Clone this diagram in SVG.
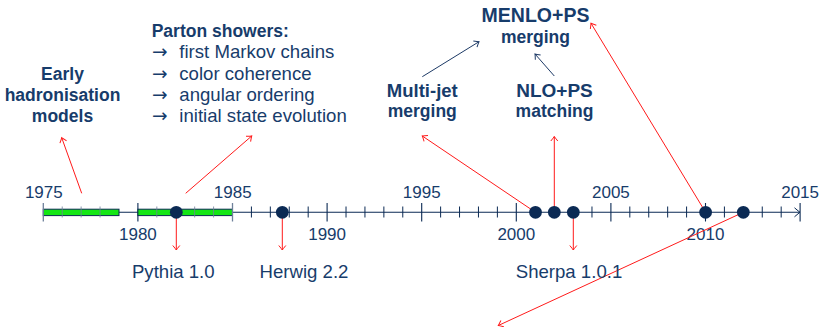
<svg xmlns="http://www.w3.org/2000/svg" width="821" height="327" viewBox="0 0 821 327">
<style>
text{font-family:"Liberation Sans",Arial,sans-serif;fill:#173c6b}
.b{font-weight:bold;font-size:17.5px;text-anchor:middle}
.r{font-size:18.6px}
.ar{font-family:"DejaVu Sans",sans-serif;font-size:18.6px}
.yr{font-size:17px;text-anchor:middle}
.lab{font-size:18.6px;text-anchor:middle}
.red{stroke:#ff1a1a;stroke-width:1;fill:none;marker-end:url(#ra)}
.nav{stroke:#1d3a66;stroke-width:1;fill:none;marker-end:url(#na)}
.dot{fill:#0b2a54}
</style>
<defs>
<marker id="ra" markerUnits="userSpaceOnUse" viewBox="-6 -5 8 10" markerWidth="8" markerHeight="10" refX="0" refY="0" orient="auto">
<path d="M-4.5,-3.5 Q-1,-0.6 0,0 Q-1,0.6 -4.5,3.5" fill="none" stroke="#ff1a1a" stroke-width="1"/>
</marker>
<marker id="na" markerUnits="userSpaceOnUse" viewBox="-6 -5 8 10" markerWidth="8" markerHeight="10" refX="0" refY="0" orient="auto">
<path d="M-4.5,-3.5 Q-1,-0.6 0,0 Q-1,0.6 -4.5,3.5" fill="none" stroke="#1d3a66" stroke-width="1"/>
</marker>
<marker id="axa" markerUnits="userSpaceOnUse" viewBox="-7 -6 9 12" markerWidth="9" markerHeight="12" refX="0" refY="0" orient="auto">
<path d="M-5.5,-4.5 Q-1.2,-0.8 0,0 Q-1.2,0.8 -5.5,4.5" fill="none" stroke="#0b2a54" stroke-width="1"/>
</marker>
</defs>

<g id="axis">
<line x1="43.3" y1="212.3" x2="800" y2="212.3" stroke="#0b2a54" stroke-width="1.1" marker-end="url(#axa)"/>
<path d="M137.9,203V221.5M327.1,203V221.5M421.7,203V221.5M516.3,203V221.5M610.9,203V221.5M705.5,203V221.5M800.1,203V221.5" stroke="#0b2a54" stroke-width="1.1"/>
<path d="M251.42,206.5V217.5M270.34,206.5V217.5M289.26,206.5V217.5M308.18,206.5V217.5M346.02,206.5V217.5M364.94,206.5V217.5M383.86,206.5V217.5M402.78,206.5V217.5M440.62,206.5V217.5M459.54,206.5V217.5M478.46,206.5V217.5M497.38,206.5V217.5M535.22,206.5V217.5M554.14,206.5V217.5M573.06,206.5V217.5M591.98,206.5V217.5M629.82,206.5V217.5M648.74,206.5V217.5M667.66,206.5V217.5M686.58,206.5V217.5M724.42,206.5V217.5M743.34,206.5V217.5M762.26,206.5V217.5M781.18,206.5V217.5" stroke="#0b2a54" stroke-width="1"/>
<rect x="43.3" y="209.2" width="75.7" height="6.4" fill="#14e614" stroke="#0b2a54" stroke-width="1"/>
<rect x="137.9" y="209.2" width="94.6" height="6.4" fill="#14e614" stroke="#0b2a54" stroke-width="1"/>
<path d="M43.3,203V221.5M232.5,203V221.5" stroke="#6f819b" stroke-width="1.3"/>
<path d="M62.22,206.5V217.5M81.14,206.5V217.5M100.06,206.5V217.5M156.82,206.5V217.5M175.74,206.5V217.5M194.66,206.5V217.5M213.58,206.5V217.5" stroke="#6f819b" stroke-width="1" opacity="0.8"/>
<text class="yr" x="43.8" y="197.7">1975</text>
<text class="yr" x="232.7" y="197.7">1985</text>
<text class="yr" x="421.7" y="197.7">1995</text>
<text class="yr" x="610.9" y="197.7">2005</text>
<text class="yr" x="800.1" y="197.7">2015</text>
<text class="yr" x="137.9" y="240">1980</text>
<text class="yr" x="327.1" y="240">1990</text>
<text class="yr" x="516.3" y="240">2000</text>
<text class="yr" x="705.5" y="240">2010</text>
</g>

<g id="connectors">
<line class="red" x1="81.7" y1="193.3" x2="61.7" y2="137.7"/>
<line class="red" x1="185.7" y1="193.3" x2="251.7" y2="136"/>
<line class="red" x1="176.3" y1="212.3" x2="176.3" y2="250"/>
<line class="red" x1="282.3" y1="212.3" x2="282.3" y2="250"/>
<line class="red" x1="535.5" y1="212.3" x2="422.3" y2="136"/>
<line class="red" x1="554.3" y1="212.3" x2="554.3" y2="136.5"/>
<line class="red" x1="573.3" y1="212.3" x2="573.3" y2="250"/>
<line class="red" x1="705.6" y1="212.3" x2="591" y2="23.3"/>
<line class="red" x1="743.3" y1="212.3" x2="498.3" y2="325.5"/>
<line class="nav" x1="422.3" y1="76.7" x2="479" y2="41.7"/>
<line class="nav" x1="554.3" y1="76" x2="535" y2="54"/>
</g>

<g id="events">
<circle class="dot" cx="176.3" cy="212.3" r="6.4"/>
<circle class="dot" cx="282.3" cy="212.3" r="6.4"/>
<circle class="dot" cx="535.5" cy="212.3" r="6.4"/>
<circle class="dot" cx="554.3" cy="212.3" r="6.4"/>
<circle class="dot" cx="573.3" cy="212.3" r="6.4"/>
<circle class="dot" cx="705.6" cy="212.3" r="6.4"/>
<circle class="dot" cx="743.3" cy="212.3" r="6.4"/>
</g>

<g id="pythia"><text class="lab" x="173.3" y="278.3">Pythia 1.0</text></g>
<g id="herwig"><text class="lab" x="304" y="278.3">Herwig 2.2</text></g>
<g id="sherpa"><text class="lab" x="569" y="278.3">Sherpa 1.0.1</text></g>

<g id="early">
<text class="b" x="62.5" y="80">Early</text>
<text class="b" x="62.5" y="101">hadronisation</text>
<text class="b" x="62.5" y="121.7">models</text>
</g>

<g id="parton">
<text class="b" x="151.7" y="37.3" style="text-anchor:start">Parton showers:</text>
<text class="r" y="58.3"><tspan class="ar" x="152">→</tspan><tspan x="179.3">first Markov chains</tspan></text>
<text class="r" y="79.5"><tspan class="ar" x="152">→</tspan><tspan x="179.3">color coherence</tspan></text>
<text class="r" y="100.7"><tspan class="ar" x="152">→</tspan><tspan x="179.3">angular ordering</tspan></text>
<text class="r" y="121.9"><tspan class="ar" x="152">→</tspan><tspan x="179.3">initial state evolution</tspan></text>
</g>

<g id="multijet">
<text class="b" x="422.3" y="96.7" style="font-size:18.5px">Multi-jet</text>
<text class="b" x="422.3" y="117.3">merging</text>
</g>
<g id="nlops">
<text class="b" x="554.5" y="96.7" style="font-size:19px">NLO+PS</text>
<text class="b" x="554.5" y="117.3">matching</text>
</g>
<g id="menlops">
<text class="b" x="535.5" y="21.7" style="font-size:19.5px">MENLO+PS</text>
<text class="b" x="535.5" y="42.5">merging</text>
</g>
</svg>
